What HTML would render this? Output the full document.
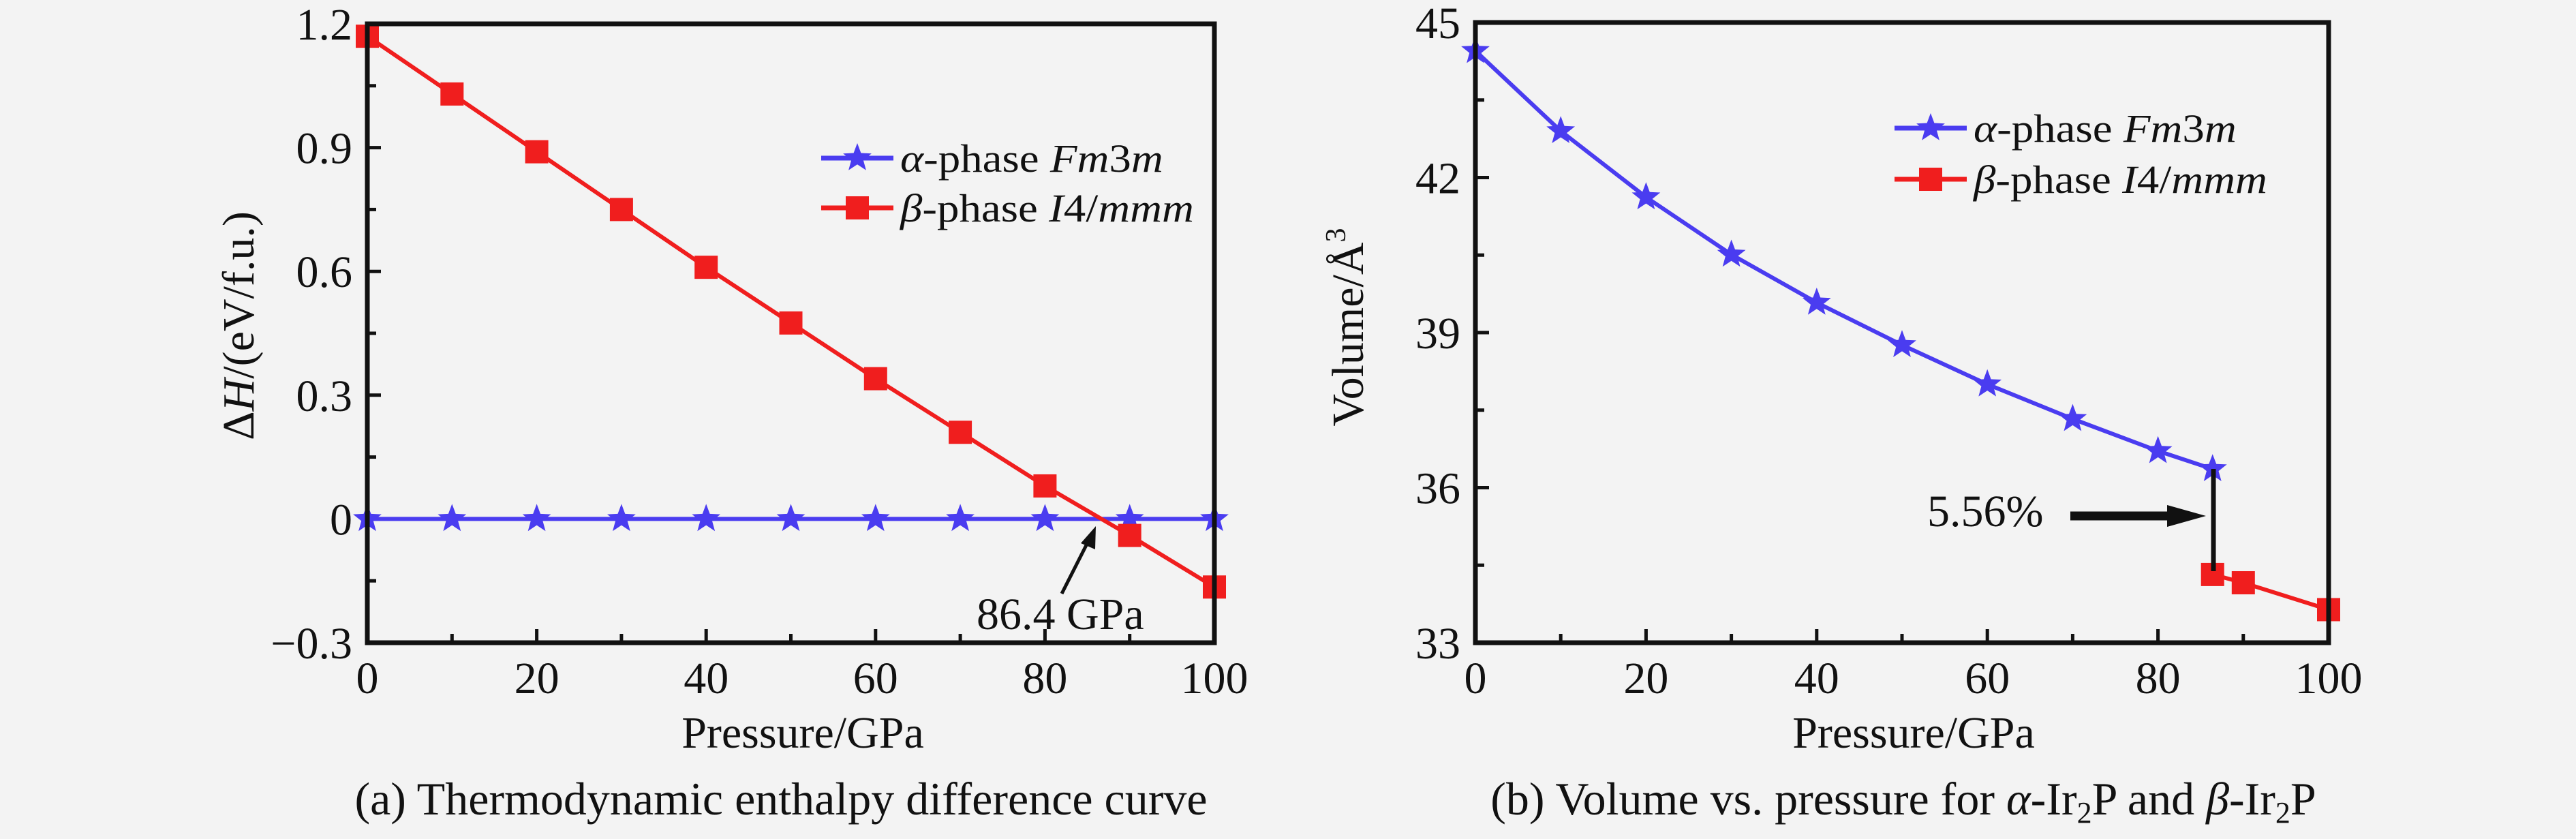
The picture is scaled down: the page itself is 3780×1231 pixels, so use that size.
<!DOCTYPE html>
<html><head><meta charset="utf-8"><style>
html,body{margin:0;padding:0;background:#f3f3f3;}
svg{display:block;font-family:"Liberation Serif",serif;}
</style></head><body>
<svg id="fig" width="3780" height="1231" viewBox="0 0 3780 1231">
<rect width="3780" height="1231" fill="#f3f3f3"/>
<g id="ga"></g>
<g id="gb"></g>
</svg>
<script>
// Chart (a) data
const pressureA = [0,10,20,30,40,50,60,70,80,90,100];
const alphaH = [0,0,0,0,0,0,0,0,0,0,0];
const betaH = [1.17,1.03,0.89,0.75,0.61,0.475,0.34,0.21,0.08,-0.04,-0.165];
const yTicksA = [-0.3,0,0.3,0.6,0.9,1.2];
const yTickLabelsA = ["\u22120.3","0","0.3","0.6","0.9","1.2"];
const xTicks = [0,20,40,60,80,100];
const xTickLabels = ["0","20","40","60","80","100"];
// Chart (b) data
const pressureAlphaB = [0,10,20,30,40,50,60,70,80,86.4];
const alphaV = [44.45,42.9,41.62,40.51,39.58,38.76,38.0,37.33,36.71,36.36];
const pressureBetaB = [86.4,90,100];
const betaV = [34.32,34.16,33.64];
const yTicksB = [33,36,39,42,45];
const yTickLabelsB = ["33","36","39","42","45"];

const NS="http://www.w3.org/2000/svg";
function mk(parent,tag,attrs,text){const e=document.createElementNS(NS,tag);for(const k in attrs)e.setAttribute(k,attrs[k]);if(text!==undefined)e.innerHTML=text;parent.appendChild(e);return e;}
function txt(parent,x,y,s,size,anchor,name,sx){
  const t=mk(parent,'text',{transform:`translate(${x},${y}) scale(${sx||1},1)`,'font-size':size,'text-anchor':anchor||'middle',fill:'#111'},s);
  
  
  return t;
}
function starPath(cx,cy,R){let d='';for(let i=0;i<10;i++){const r=i%2?R*0.42:R;const a=-Math.PI/2+i*Math.PI/5;d+=(i?'L':'M')+(cx+r*Math.cos(a)).toFixed(1)+','+(cy+r*Math.sin(a)).toFixed(1);}return d+'Z';}

function drawChart(g,o){
  const X=v=>o.x0+(v-o.xmin)/(o.xmax-o.xmin)*(o.x1-o.x0);
  const Y=v=>o.y1-(v-o.ymin)/(o.ymax-o.ymin)*(o.y1-o.y0);
  for(let v=o.xmin;v<=o.xmax;v+=10){
    const major=xTicks.includes(v);
    const l=mk(g,'line',{x1:X(v),x2:X(v),y1:o.y1,y2:o.y1-(major?20:13),stroke:'#111','stroke-width':5});
    
    
  }
  xTicks.forEach((v,i)=>{txt(g,X(v),1017,xTickLabels[i],66,'middle','x-tick-label');});
  const yt=o.yTicks, step=(yt[1]-yt[0])/2;
  for(let v=o.ymin;v<=o.ymax+1e-9;v+=step){
    const major=Math.abs(((v-o.ymin)/step)%2)<1e-6;
    const l=mk(g,'line',{x1:o.x0,x2:o.x0+(major?20:13),y1:Y(v),y2:Y(v),stroke:'#111','stroke-width':5});
    
    
  }
  yt.forEach((v,i)=>{txt(g,o.x0-22,Y(v)+23,o.yLabels[i],66,'end','y-tick-label');});
  o.series.forEach(s=>{
    const pts=s.xs.map((x,i)=>X(x)+','+Y(s.ys[i])).join(' ');
    const pl=mk(g,'polyline',{points:pts,fill:'none',stroke:s.color,'stroke-width':6});
    
    
    s.xs.forEach((x,i)=>{
      let m;
      if(s.marker==='star') m=mk(g,'path',{d:starPath(X(x),Y(s.ys[i]),22),fill:s.color});
      else m=mk(g,'rect',{x:X(x)-17,y:Y(s.ys[i])-17,width:34,height:34,fill:s.color});
      
      
    });
  });
  const fr=mk(g,'rect',{x:o.x0,y:o.y0,width:o.x1-o.x0,height:o.y1-o.y0,fill:'none',stroke:'#111','stroke-width':7});
  
  
  const leg=mk(g,'g',{});
  
  
  [[0,'#4a3cf0','star','<tspan font-style="italic">α</tspan>-phase <tspan font-style="italic">Fm</tspan>3<tspan font-style="italic">m</tspan>'],
   [1,'#f01e1e','sq','<tspan font-style="italic">β</tspan>-phase <tspan font-style="italic">I</tspan>4/<tspan font-style="italic">mmm</tspan>']].forEach(([k,c,mkr,lab])=>{
    const y=o.legY[k];
    const e=mk(leg,'g',{});
    
    
    mk(e,'line',{x1:o.legX,x2:o.legX+106,y1:y,y2:y,stroke:c,'stroke-width':7});
    if(mkr==='star') mk(e,'path',{d:starPath(o.legX+53,y,22),fill:c});
    else mk(e,'rect',{x:o.legX+36,y:y-17,width:34,height:34,fill:c});
    mk(e,'text',{transform:`translate(${o.legX+116},${y+20}) scale(1.12,1)`,'font-size':58,fill:'#111'},lab);
  });
  return {X,Y};
}

const ga=document.getElementById('ga');
drawChart(ga,{x0:539,x1:1782,y0:35,y1:943,xmin:0,xmax:100,ymin:-0.3,ymax:1.2,yTicks:yTicksA,yLabels:yTickLabelsA,legX:1205,legY:[232,305],
 series:[{xs:pressureA,ys:alphaH,color:'#4a3cf0',marker:'star',name:'alpha-phase'},{xs:pressureA,ys:betaH,color:'#f01e1e',marker:'sq',name:'beta-phase'}]});
txt(ga,1178,1097,'Pressure/GPa',66,'middle','x-axis-title');
txt(ga,1146,1195,'(a) Thermodynamic enthalpy difference curve',68,'middle','caption-a');
const ya=mk(ga,'text',{transform:'translate(372,478) rotate(-90)','font-size':66,'text-anchor':'middle',fill:'#111'},'Δ<tspan font-style="italic">H</tspan>/(eV/f.u.)');


txt(ga,1433,923,'86.4 GPa',66,'start','transition-annotation');
const arA=mk(ga,'g',{});


mk(arA,'line',{x1:1558,y1:871,x2:1598,y2:792,stroke:'#111','stroke-width':5});
mk(arA,'polygon',{points:'1608,772 1586,797 1607,806',fill:'#111'});

const gb=document.getElementById('gb');
drawChart(gb,{x0:2165,x1:3417,y0:33,y1:943,xmin:0,xmax:100,ymin:33,ymax:45,yTicks:yTicksB,yLabels:yTickLabelsB,legX:2780,legY:[188,263],
 series:[{xs:pressureAlphaB,ys:alphaV,color:'#4a3cf0',marker:'star',name:'alpha-phase'},{xs:pressureBetaB,ys:betaV,color:'#f01e1e',marker:'sq',name:'beta-phase'}]});
txt(gb,2808,1097,'Pressure/GPa',66,'middle','x-axis-title');
const cb=mk(gb,'text',{transform:'translate(2793,1195)','font-size':68,'text-anchor':'middle',fill:'#111'},'(b) Volume vs. pressure for <tspan font-style="italic">α</tspan>-Ir<tspan font-size="44" dy="12">2</tspan><tspan dy="-12">P and </tspan><tspan font-style="italic">β</tspan>-Ir<tspan font-size="44" dy="12">2</tspan><tspan dy="-12">P</tspan>');


const yb=mk(gb,'text',{transform:'translate(2000,480) rotate(-90)','font-size':66,'text-anchor':'middle',fill:'#111'},'Volume/Å<tspan font-size="42" dy="-26">3</tspan>');


txt(gb,2828,772,'5.56%',66,'start','volume-drop-annotation');
const arB=mk(gb,'g',{});


mk(arB,'line',{x1:3038,y1:757,x2:3185,y2:757,stroke:'#111','stroke-width':13});
mk(arB,'polygon',{points:'3237,757 3180,741 3180,773',fill:'#111'});
mk(arB,'line',{x1:3248,y1:688,x2:3248,y2:838,stroke:'#111','stroke-width':7});
</script>
</body></html>
